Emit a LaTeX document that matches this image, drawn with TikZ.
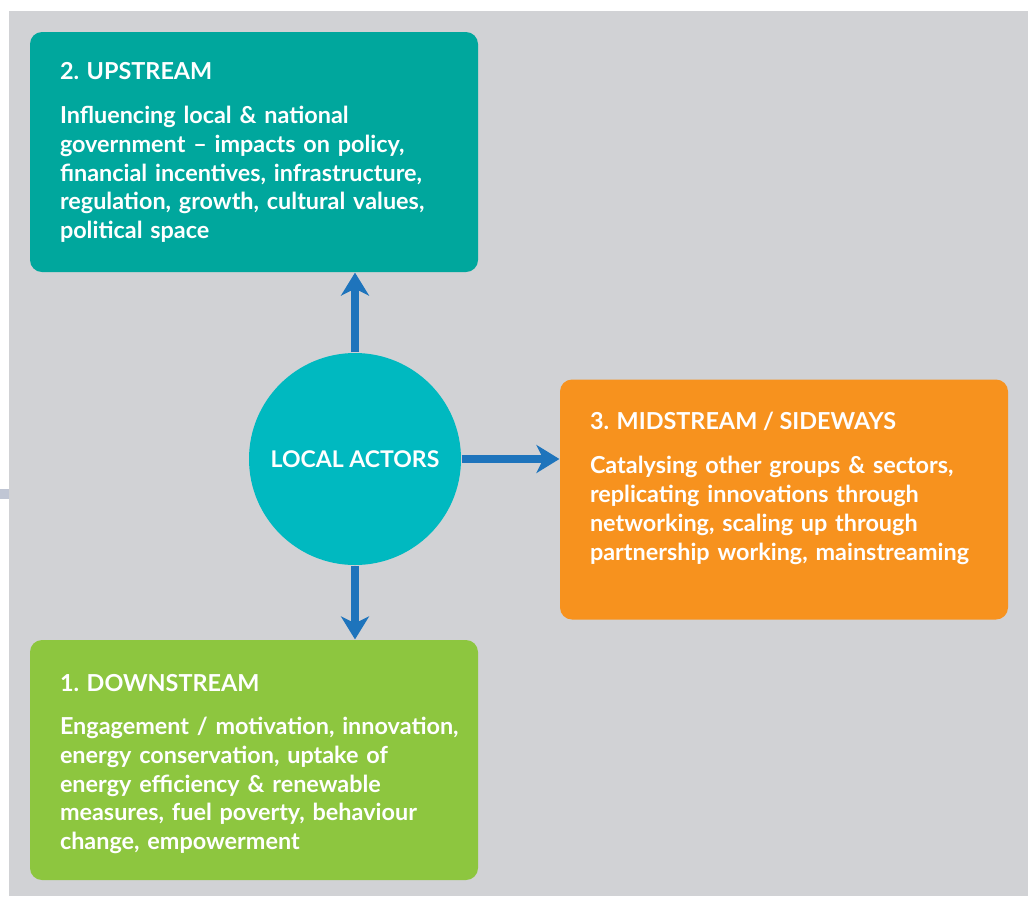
\documentclass[tikz,border=0pt]{standalone}
\usepackage{fontspec}
\setmainfont{Lato}
\usetikzlibrary{positioning,arrows.meta}

\definecolor{panelgrey}{RGB}{209,210,213}
\definecolor{tabgrey}{RGB}{192,198,212}
\definecolor{upteal}{RGB}{0,167,157}
\definecolor{midorange}{RGB}{247,146,30}
\definecolor{downgreen}{RGB}{141,198,63}
\definecolor{actorcyan}{RGB}{0,185,192}
\definecolor{flowblue}{RGB}{30,116,188}

\begin{document}
\begin{tikzpicture}[x=0.5pt, y=-0.5pt, semithick,
    box/.style={rectangle, rounded corners=6pt, minimum width=224pt, minimum height=120pt, inner sep=0pt},
    heading/.style={anchor=base west, inner sep=0pt, text=white, font={\bfseries\fontsize{11.7}{14.4}\selectfont}},
    body/.style={anchor=base west, inner sep=0pt, text=white, align=left, text width=230pt, font={\bfseries\fontsize{11.7}{14.4}\selectfont}},
    hub/.style={circle, fill=actorcyan, minimum size=106pt, inner sep=0pt, text=white, font={\bfseries\fontsize{11.5}{14.4}\selectfont}},
    flow/.style={draw=flowblue, line width=4pt, -{Stealth[length=11.5pt, width=14pt, inset=3.5pt]}}]

    % Background panel
    \useasboundingbox (0,0) rectangle (1028,896);
    \fill[panelgrey] (9,11) rectangle (1028,896);
    \fill[tabgrey] (0,489) rectangle (9,499);

    % Nodes
    \node[box, fill=upteal] (up) at (254,152) {};
    \node[box, fill=midorange] (mid) at (784,499.5) {};
    \node[box, fill=downgreen] (down) at (254,760) {};
    \node[hub] (actors) at (355,459) {LOCAL ACTORS};

    % Box texts
    \node[heading] (up-head) at ([shift={(30,48)}]up.north west) {2. UPSTREAM};
    \node[body] (up-text) at ([shift={(30,92)}]up.north west)
        {Influencing local \& national\\
         government – impacts on policy,\\
         financial incentives, infrastructure,\\
         regulation, growth, cultural values,\\
         political space};

    \node[heading] (mid-head) at ([shift={(30,51)}]mid.north west) {3. MIDSTREAM / SIDEWAYS};
    \node[body] (mid-text) at ([shift={(30,95)}]mid.north west)
        {Catalysing other groups \& sectors,\\
         replicating innovations through\\
         networking, scaling up through\\
         partnership working, mainstreaming};

    \node[heading] (down-head) at ([shift={(30,52)}]down.north west) {1. DOWNSTREAM};
    \node[body] (down-text) at ([shift={(30,95)}]down.north west)
        {Engagement / motivation, innovation,\\
         energy conservation, uptake of\\
         energy efficiency \& renewable\\
         measures, fuel poverty, behaviour\\
         change, empowerment};

    % Edges (Arrows)
    \draw[flow] (actors) -- (actors |- up.south);
    \draw[flow] (actors) -- (actors -| mid.west);
    \draw[flow] (actors) -- (actors |- down.north);

\end{tikzpicture}
\end{document}
